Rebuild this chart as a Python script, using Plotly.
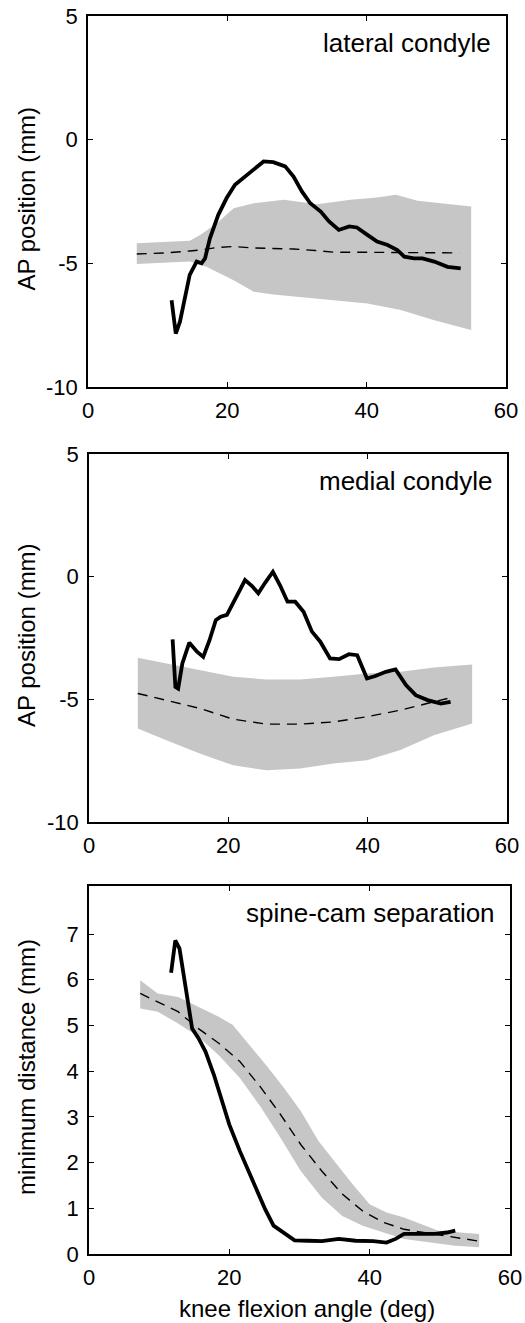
import plotly.graph_objects as go

# ---------------- Panel 1: lateral condyle ----------------
lat_x = [12.0, 12.6, 13.2, 13.9, 14.6, 15.6, 16.3, 16.8, 17.5, 18.7, 19.9, 21.1, 22.6, 23.8,
         25.2, 26.6, 28.3, 29.5, 30.7, 31.9, 33.4, 34.6, 36.0, 37.5, 38.6, 40.1, 41.5, 43.0,
         44.4, 45.4, 46.8, 48.0, 49.7, 51.6, 53.5]
lat_y = [-6.49, -7.84, -7.36, -6.42, -5.47, -4.93, -5.0, -4.8, -3.99, -3.04, -2.36, -1.82, -1.49,
         -1.22, -0.88, -0.91, -1.08, -1.49, -2.09, -2.57, -2.91, -3.31, -3.65, -3.51, -3.55,
         -3.85, -4.12, -4.26, -4.46, -4.73, -4.80, -4.80, -4.93, -5.14, -5.20]
lat_mean_x = [7.0, 11.0, 14.6, 16.1, 18.5, 20.9, 23.8, 27.0, 29.5, 32.6, 35.3, 38.6, 41.5, 45.0, 50.0, 53.3]
lat_mean_y = [-4.62, -4.58, -4.50, -4.46, -4.36, -4.32, -4.38, -4.41, -4.42, -4.48, -4.55, -4.55, -4.55, -4.55, -4.57, -4.58]
lat_up_x = [7.0, 14.6, 16.1, 18.5, 20.9, 23.8, 28.1, 32.9, 37.7, 41.5, 44.2, 47.3, 55.0]
lat_up_y = [-4.19, -4.09, -3.85, -3.38, -2.77, -2.57, -2.43, -2.61, -2.43, -2.34, -2.23, -2.47, -2.70]
lat_lo_x = [7.0, 14.6, 17.0, 20.9, 23.8, 26.6, 30.5, 35.3, 40.1, 44.9, 49.7, 55.0]
lat_lo_y = [-5.03, -4.93, -5.14, -5.68, -6.15, -6.26, -6.35, -6.49, -6.62, -6.89, -7.30, -7.70]

# ---------------- Panel 2: medial condyle ----------------
med_x = [12.0, 12.4, 12.8, 13.4, 14.4, 15.5, 16.4, 17.3, 18.2, 18.9, 19.8, 21.0, 22.4, 23.4,
         24.3, 25.3, 26.4, 27.4, 28.5, 29.6, 30.8, 32.0, 33.2, 34.6, 35.9, 37.3, 38.5, 39.9,
         41.1, 42.6, 44.0, 45.5, 46.9, 48.6, 50.5, 51.9]
med_y = [-2.56, -4.49, -4.56, -3.54, -2.69, -3.06, -3.27, -2.59, -1.77, -1.63, -1.56, -0.88,
         -0.14, -0.38, -0.68, -0.24, 0.20, -0.34, -1.02, -1.02, -1.43, -2.24, -2.65, -3.33,
         -3.36, -3.16, -3.20, -4.15, -4.05, -3.88, -3.78, -4.42, -4.83, -5.03, -5.17, -5.10]
med_mean_x = [7.0, 11.1, 15.9, 20.7, 25.5, 30.3, 35.1, 39.9, 44.7, 49.5, 52.4]
med_mean_y = [-4.76, -5.03, -5.37, -5.81, -6.01, -6.01, -5.92, -5.71, -5.44, -5.10, -4.90]
med_up_x = [7.0, 11.1, 15.9, 20.7, 25.5, 30.3, 35.1, 39.9, 44.7, 49.5, 55.0]
med_up_y = [-3.31, -3.54, -3.84, -4.08, -4.19, -4.19, -4.08, -3.95, -3.88, -3.70, -3.58]
med_lo_x = [7.0, 11.1, 15.9, 20.7, 25.5, 30.3, 35.1, 39.9, 44.7, 49.5, 55.0]
med_lo_y = [-6.19, -6.67, -7.21, -7.69, -7.89, -7.82, -7.62, -7.48, -7.07, -6.46, -5.99]

# ---------------- Panel 3: spine-cam separation ----------------
sc_x = [11.7, 12.3, 12.9, 13.6, 14.1, 14.7, 15.6, 16.6, 17.8, 18.8, 20.0, 21.5, 22.7, 23.9,
        25.1, 26.3, 27.8, 29.3, 31.2, 33.2, 35.6, 38.0, 40.5, 42.4, 43.7, 44.9, 46.8, 49.3,
        51.0, 52.2]
sc_y = [6.15, 6.86, 6.68, 6.02, 5.52, 4.93, 4.72, 4.43, 3.92, 3.41, 2.83, 2.25, 1.81, 1.38,
        0.98, 0.62, 0.47, 0.30, 0.29, 0.28, 0.33, 0.29, 0.28, 0.25, 0.33, 0.44, 0.44, 0.44,
        0.47, 0.51]
sc_mean_x = [7.3, 9.8, 12.7, 15.6, 18.5, 21.5, 24.4, 27.3, 30.2, 33.2, 36.1, 39.0, 42.0, 44.9, 48.8, 52.2, 55.6]
sc_mean_y = [5.70, 5.52, 5.30, 4.93, 4.61, 4.21, 3.66, 3.05, 2.39, 1.81, 1.31, 0.94, 0.69, 0.54, 0.44, 0.36, 0.28]
sc_up_x = [7.3, 9.8, 12.7, 15.6, 18.5, 20.5, 22.9, 25.4, 27.8, 30.2, 32.7, 35.1, 37.6, 40.0, 42.4, 44.9, 47.3, 49.8, 55.6]
sc_up_y = [5.99, 5.70, 5.62, 5.41, 5.19, 5.01, 4.57, 4.10, 3.63, 3.12, 2.47, 2.00, 1.52, 1.09, 0.91, 0.80, 0.65, 0.51, 0.44]
sc_lo_x = [7.3, 9.8, 12.7, 15.6, 18.5, 21.5, 24.4, 27.3, 30.2, 33.2, 36.1, 39.0, 42.0, 44.9, 48.8, 52.2, 55.6]
sc_lo_y = [5.37, 5.30, 5.04, 4.75, 4.35, 3.85, 3.23, 2.54, 1.81, 1.23, 0.83, 0.62, 0.47, 0.33, 0.25, 0.18, 0.15]

x_ticks = [0, 20, 40, 60]
x_ticktext = ["0", "20", "40", "60"]
ap_ticks = [5, 0, -5, -10]
ap_ticktext = ["5", "0", "-5", "-10"]
sc_ticks = [0, 1, 2, 3, 4, 5, 6, 7]
sc_ticktext = ["0", "1", "2", "3", "4", "5", "6", "7"]
titles = ["lateral condyle", "medial condyle", "spine-cam separation"]
ylabels = ["AP position (mm)", "AP position (mm)", "minimum distance (mm)"]
xlabel = "knee flexion angle (deg)"

W, H = 525, 1323
FONT = "Liberation Sans, Arial, Helvetica, sans-serif"
BAND = "rgb(198,198,198)"

# plot rectangles in pixels: (left, right, top, bottom)
rects = [(88, 506, 16, 387), (89, 507, 454, 822), (89, 510, 886, 1254)]

panels = [
    (lat_x, lat_y, lat_mean_x, lat_mean_y, lat_up_x, lat_up_y, lat_lo_x, lat_lo_y),
    (med_x, med_y, med_mean_x, med_mean_y, med_up_x, med_up_y, med_lo_x, med_lo_y),
    (sc_x, sc_y, sc_mean_x, sc_mean_y, sc_up_x, sc_up_y, sc_lo_x, sc_lo_y),
]

fig = go.Figure()
for i, (bx, by, mx, my, ux, uy, lx, ly) in enumerate(panels):
    xa = "x" if i == 0 else f"x{i+1}"
    ya = "y" if i == 0 else f"y{i+1}"
    fig.add_trace(go.Scatter(x=ux + lx[::-1], y=uy + ly[::-1], fill="toself",
                             fillcolor=BAND, line=dict(width=0), mode="lines",
                             xaxis=xa, yaxis=ya, showlegend=False, hoverinfo="skip"))
    fig.add_trace(go.Scatter(x=mx, y=my, mode="lines",
                             line=dict(color="black", width=1.4, dash="10px,7px"),
                             xaxis=xa, yaxis=ya, showlegend=False))
    fig.add_trace(go.Scatter(x=bx, y=by, mode="lines",
                             line=dict(color="black", width=3.8),
                             xaxis=xa, yaxis=ya, showlegend=False))

layout = dict(width=W, height=H, margin=dict(l=0, r=0, t=0, b=0, autoexpand=False),
              paper_bgcolor="white", plot_bgcolor="white",
              font=dict(family=FONT, color="black", size=22))
annotations = []
for i, (l, r, t, b) in enumerate(rects):
    sfx = "" if i == 0 else str(i + 1)
    xd = [l / W, r / W]
    yd = [1 - b / H, 1 - t / H]
    layout["xaxis" + sfx] = dict(domain=xd, range=[0, 60], tickvals=x_ticks, ticktext=x_ticktext,
                                 ticks="inside", ticklen=5, tickwidth=1, tickcolor="black",
                                 showline=True, linecolor="black", linewidth=1.5,
                                 mirror="ticks", showgrid=False, zeroline=False, automargin=False,
                                 anchor="y" + sfx, tickfont=dict(size=22), ticklabelstandoff=3)
    if i < 2:
        yr, yt, ytt = [-10, 5], ap_ticks, ap_ticktext
    else:
        yr, yt, ytt = [0, 8.05], sc_ticks, sc_ticktext
    layout["yaxis" + sfx] = dict(domain=yd, range=yr, tickvals=yt, ticktext=ytt,
                                 ticks="inside", ticklen=5, tickwidth=1, tickcolor="black",
                                 showline=True, linecolor="black", linewidth=1.5,
                                 mirror="ticks", showgrid=False, zeroline=False, automargin=False,
                                 anchor="x" + sfx, tickfont=dict(size=22), ticklabelstandoff=4)
    annotations.append(dict(text=titles[i], xref="paper", yref="paper",
                            x=(r - 13) / W, y=1 - (t + 27) / H, xanchor="right", yanchor="middle",
                            showarrow=False, font=dict(size=26)))
    annotations.append(dict(text=ylabels[i], xref="paper", yref="paper",
                            x=26 / W, y=1 - ((t + b) / 2 - 3) / H, xanchor="center", yanchor="middle",
                            textangle=-90, showarrow=False, font=dict(size=24)))
annotations.append(dict(text=xlabel, xref="paper", yref="paper",
                        x=307 / W, y=1 - 1308 / H, xanchor="center", yanchor="middle",
                        showarrow=False, font=dict(size=24)))
layout["annotations"] = annotations
fig.update_layout(**layout)
fig.write_html("out.html")
